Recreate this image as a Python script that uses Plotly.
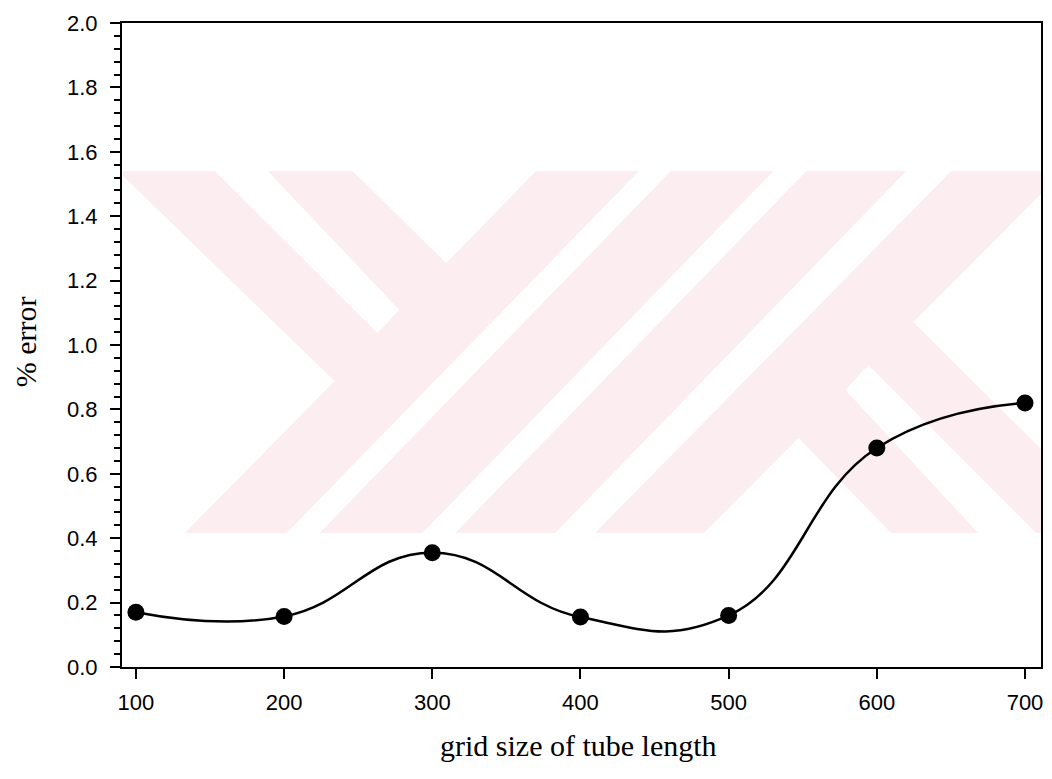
import plotly.graph_objects as go

grid_size = [100, 200, 300, 400, 500, 600, 700]
pct_error = [0.17, 0.157, 0.355, 0.155, 0.16, 0.68, 0.82]
x_ticks = [100, 200, 300, 400, 500, 600, 700]
y_ticks = [0.0, 0.2, 0.4, 0.6, 0.8, 1.0, 1.2, 1.4, 1.6, 1.8, 2.0]

W, H = 1052, 779
L, R, T, B = 122, 1043, 23, 667  # plot area in pixels

def px(x, y):
    return (x - L) / (R - L), (B - y) / (B - T)

def path(points):
    pts = [px(x, y) for x, y in points]
    return "M " + " L ".join(f"{a:.5f},{b:.5f}" for a, b in pts) + " Z"

PINK = "rgb(252,237,240)"
shapes = [dict(type="path", xref="paper", yref="paper", layer="below", line_width=0,
               fillcolor=PINK, path=path([(123, 171), (1043, 171), (1043, 533), (123, 533)]))]
white_polys = [
    [(122, 175), (335, 381), (185, 533), (122, 533)],
    [(215, 171), (268, 171), (400, 310), (378, 333)],
    [(353, 171), (537, 171), (447, 263)],
    [(287, 533), (320, 533), (672, 171), (640, 171)],
    [(423, 533), (456, 533), (808, 171), (775, 171)],
    [(556, 533), (596, 533), (953, 171), (908, 171)],
    [(705, 533), (800, 438), (893, 533)],
    [(915, 322), (1044, 193), (1044, 450)],
    [(847, 390), (870, 365), (1038, 533), (980, 533)],
]
for poly in white_polys:
    shapes.append(dict(type="path", xref="paper", yref="paper", layer="below", line_width=0,
                       fillcolor="white", path=path(poly)))

fig = go.Figure()
fig.add_trace(go.Scatter(
    x=grid_size, y=pct_error, mode="lines+markers",
    line=dict(color="black", width=2.5, shape="spline", smoothing=1.3),
    marker=dict(color="black", size=17),
    showlegend=False,
))

axis_font = dict(family="Liberation Sans, Arial, sans-serif", size=22, color="black")
title_font = dict(family="Liberation Serif, Times New Roman, serif", size=30, color="black")

fig.update_layout(
    width=W, height=H,
    margin=dict(l=L, r=W - R, t=T, b=H - B),
    paper_bgcolor="white", plot_bgcolor="white",
    shapes=shapes,
    annotations=[
        dict(text="grid size of tube length", xref="paper", yref="paper",
             x=px(579, 745)[0], y=px(579, 745)[1], xanchor="center", yanchor="middle",
             showarrow=False, font=title_font),
        dict(text="% error", xref="paper", yref="paper",
             x=px(25, 342)[0], y=px(25, 342)[1], xanchor="center", yanchor="middle",
             textangle=-90, showarrow=False, font=title_font),
    ],
)
fig.update_xaxes(
    range=[90.6, 710.8], tickvals=x_ticks, ticktext=[str(v) for v in x_ticks],
    showline=True, linecolor="black", linewidth=2, mirror=True,
    ticks="outside", ticklen=10, tickwidth=1.5, tickcolor="black",
    showgrid=False, zeroline=False, tickfont=axis_font, ticklabelstandoff=5,
)
fig.update_yaxes(
    range=[0, 2.0], tickvals=y_ticks, ticktext=[f"{v:.1f}" for v in y_ticks],
    showline=True, linecolor="black", linewidth=2, mirror=True,
    ticks="outside", ticklen=10, tickwidth=1.5, tickcolor="black",
    minor=dict(dtick=0.04, ticks="outside", ticklen=6, tickwidth=1.5, tickcolor="black", showgrid=False),
    showgrid=False, zeroline=False, tickfont=axis_font, ticklabelstandoff=8,
)

fig.write_html("out.html")
